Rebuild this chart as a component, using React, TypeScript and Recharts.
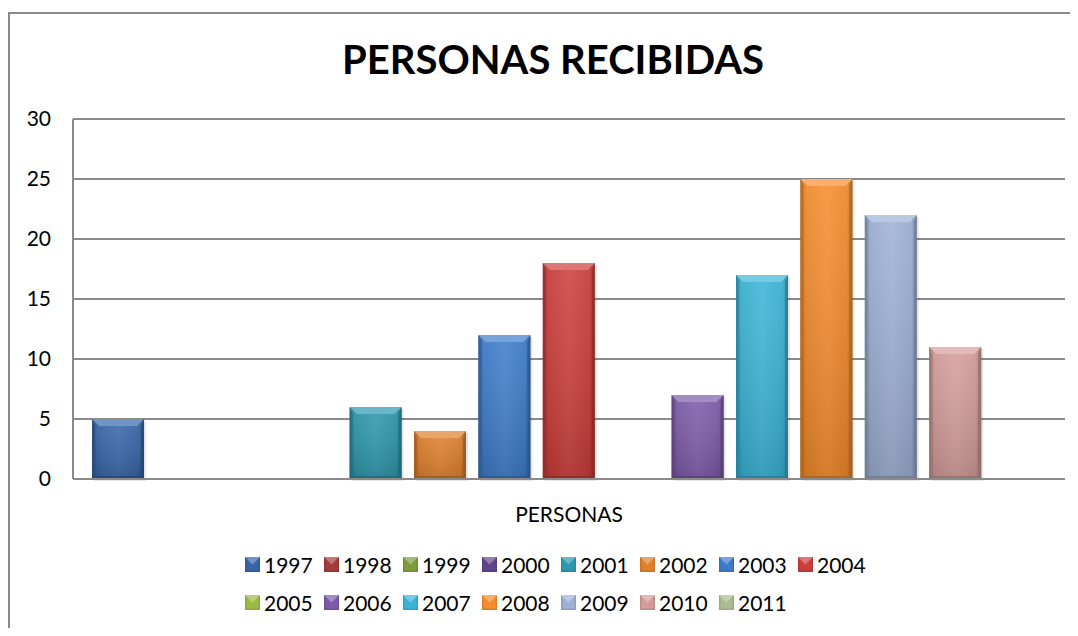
import React from 'react';
import { BarChart, Bar, XAxis, YAxis, CartesianGrid, Legend } from 'recharts';

const category = 'PERSONAS';
const years = ['1997', '1998', '1999', '2000', '2001', '2002', '2003', '2004', '2005', '2006', '2007', '2008', '2009', '2010', '2011'];
const personas = [5, 0, 0, 0, 6, 4, 12, 18, 0, 7, 17, 25, 22, 11, 0];
const yTicks = [0, 5, 10, 15, 20, 25, 30];
const colors = ['#3566A8', '#A33B38', '#7F9C3C', '#5F4589', '#2C97AD', '#E0802C', '#3D7CCB', '#CD3D3A', '#9CBB45', '#7D5BAA', '#39B4D7', '#F68C2B', '#9DB1D6', '#D49D9B', '#A9BD90'];

const data = [
  years.reduce((row: any, y, i) => {
    row['y' + y] = personas[i];
    return row;
  }, { name: category }),
];

const FONT = 'Lato, "Open Sans", sans-serif';
const GRID = '#8a8a8a';

// lighten (f > 0) or darken (f < 0) a hex colour
const shade = (hex: string, f: number) => {
  const n = parseInt(hex.slice(1), 16);
  const t = f < 0 ? 0 : 255;
  const p = Math.abs(f);
  const mix = (c: number) => Math.round((t - c) * p + c);
  return `rgb(${mix((n >> 16) & 255)},${mix((n >> 8) & 255)},${mix(n & 255)})`;
};

const BevelBar = (props: any) => {
  const { x, y, width: w, height: h, color, gid } = props;
  if (!h || h <= 0) return null;
  const b = Math.min(7, w / 5, h / 2);
  const s = 3;
  return (
    <g>
      <defs>
        <linearGradient id={gid + 'h'} x1="0" y1="0" x2="1" y2="0">
          <stop offset="0" stopColor={shade(color, -0.3)} />
          <stop offset="0.1" stopColor={shade(color, -0.04)} />
          <stop offset="0.5" stopColor={shade(color, 0.06)} />
          <stop offset="0.9" stopColor={shade(color, -0.04)} />
          <stop offset="1" stopColor={shade(color, -0.3)} />
        </linearGradient>
        <linearGradient id={gid + 'v'} x1="0" y1="0" x2="0" y2="1">
          <stop offset="0" stopColor="#fff" stopOpacity={0.08} />
          <stop offset="1" stopColor="#000" stopOpacity={0.14} />
        </linearGradient>
      </defs>
      <rect x={x + 2} y={y + 2} width={w} height={h} fill="#000" opacity={0.1} />
      <rect x={x} y={y} width={w} height={h} fill={`url(#${gid}h)`} />
      <rect x={x} y={y} width={w} height={h} fill={`url(#${gid}v)`} />
      <polygon points={`${x},${y} ${x + w},${y} ${x + w - b},${y + b} ${x + b},${y + b}`} fill={shade(color, 0.3)} />
      <polygon points={`${x},${y} ${x + s},${y + b} ${x + s},${y + h - s} ${x},${y + h}`} fill={shade(color, -0.25)} opacity={0.7} />
      <polygon points={`${x + w},${y} ${x + w - s},${y + b} ${x + w - s},${y + h - s} ${x + w},${y + h}`} fill={shade(color, -0.3)} opacity={0.7} />
      <polygon points={`${x},${y + h} ${x + s},${y + h - s} ${x + w - s},${y + h - s} ${x + w},${y + h}`} fill={shade(color, -0.3)} opacity={0.8} />
    </g>
  );
};

const LegendIcon = ({ color }: { color: string }) => (
  <svg width={15} height={15} style={{ flex: 'none' }}>
    <rect x={0} y={0} width={15} height={15} fill={shade(color, -0.1)} />
    <rect x={1.5} y={1.5} width={12} height={12} fill={color} />
    <polygon points="0,0 15,0 7.5,7.5" fill={shade(color, 0.3)} />
  </svg>
);

const renderLegend = (props: any) => {
  const items = props.payload || [];
  return (
    <div style={{ display: 'grid', gridTemplateColumns: 'repeat(8, 79px)', rowGap: 12, fontFamily: FONT, fontSize: 21, color: '#000' }}>
      {items.map((item: any) => (
        <div key={item.value} style={{ display: 'flex', alignItems: 'center', height: 26 }}>
          <LegendIcon color={item.color} />
          <span style={{ marginLeft: 4 }}>{item.value}</span>
        </div>
      ))}
    </div>
  );
};

export default function App() {
  return (
    <div style={{ position: 'relative', width: 1070, height: 620, overflow: 'hidden', background: '#fff' }}>
      <div style={{ position: 'absolute', left: 0, top: 4, width: 1200, height: 800, border: `2px solid ${GRID}` }} />
      <div
        style={{
          position: 'absolute', left: 0, top: 31, width: 1090, textAlign: 'center',
          fontFamily: FONT, fontWeight: 700, fontSize: 40, lineHeight: '40px', color: '#000',
        }}
      >
        PERSONAS RECIBIDAS
      </div>
      <div style={{ position: 'absolute', left: 0, top: 0 }}>
        <BarChart
          width={1070}
          height={620}
          data={data}
          margin={{ top: 111, right: 13, left: 0, bottom: 109 }}
          barSize={52}
          barGap={12.4}
        >
          <CartesianGrid horizontal vertical={false} stroke={GRID} strokeWidth={2} />
          <XAxis
            dataKey="name"
            height={40}
            axisLine={{ stroke: GRID, strokeWidth: 2 }}
            tickLine={false}
            tickSize={0}
            tickMargin={28}
            tick={{ fill: '#000', fontSize: 21, fontFamily: FONT }}
          />
          <YAxis
            width={65}
            domain={[0, 30]}
            ticks={yTicks}
            interval={0}
            axisLine={{ stroke: GRID, strokeWidth: 2 }}
            tickLine={false}
            tickSize={0}
            tickMargin={22}
            tick={{ fill: '#000', fontSize: 21, fontFamily: FONT }}
          />
          <Legend
            layout="horizontal"
            verticalAlign="middle"
            align="center"
            content={renderLegend}
            wrapperStyle={{ top: 543, left: 237, width: 640, height: 80 }}
          />
          {years.map((y, i) => (
            <Bar
              key={y}
              dataKey={'y' + y}
              name={y}
              fill={colors[i]}
              isAnimationActive={false}
              shape={(p: any) => <BevelBar {...p} color={colors[i]} gid={'b' + y} />}
            />
          ))}
        </BarChart>
      </div>
    </div>
  );
}
